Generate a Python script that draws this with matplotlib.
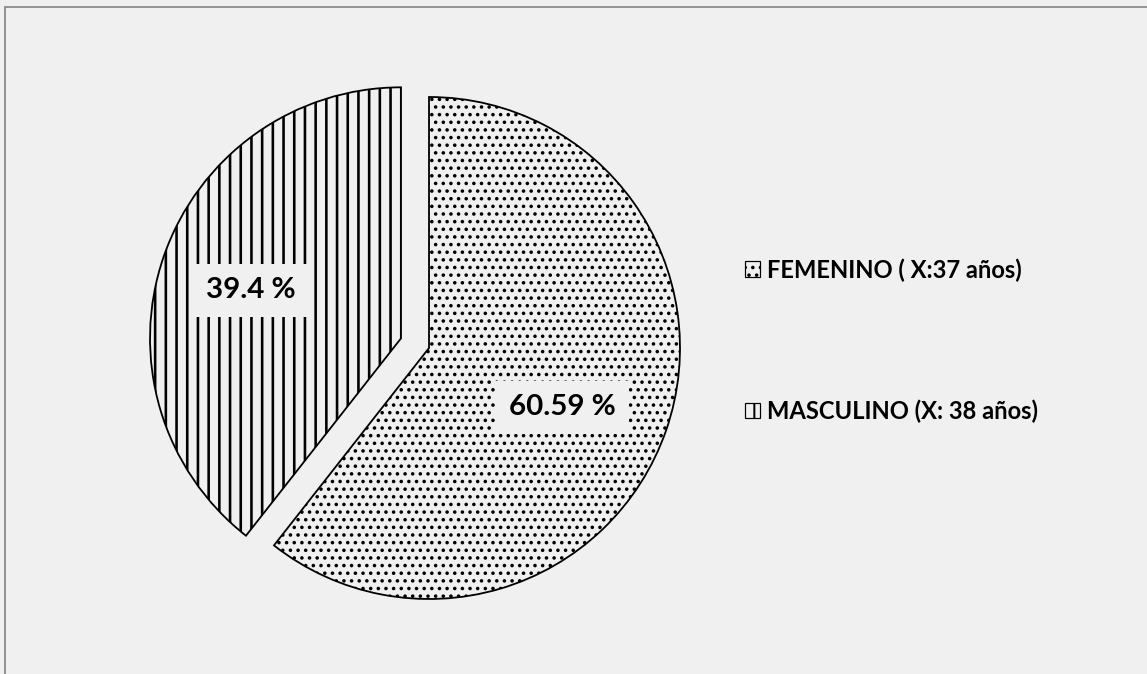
import numpy as np
import matplotlib
matplotlib.use('Agg')
import matplotlib.pyplot as plt
from matplotlib.patches import Patch, Rectangle

# data
categories = ['FEMENINO ( X:37 años)', 'MASCULINO (X: 38 años)']
shares = [60.59, 39.4]
share_labels = ['60.59 %', '39.4 %']
hatches = ['.' * 7, '|' * 5]
explode = [0.0, 0.118]

# a high dpi lets the hatch densities match the reference spacing
W, H, DPI = 1147, 674, 321
BG = '#f0f0f0'


def px(v):
    # pixels -> points
    return v * 72.0 / DPI


plt.rcParams['font.family'] = ['Lato', 'DejaVu Sans']
plt.rcParams['hatch.linewidth'] = px(2.0)

fig = plt.figure(figsize=(W / DPI, H / DPI), dpi=DPI, facecolor=BG)

# outer frame (only left and top edges visible in the reference)
fig.patches.append(Rectangle((5 / W, -0.05), 1.2, (H - 7) / H + 0.05,
                             transform=fig.transFigure, fill=False,
                             edgecolor='#8a8a8a', linewidth=px(1.8)))

# pie axes: centre at (429, 348) px, radius 251 px
cx, cy, r = 429, 348, 251
lim = 1.2
ax = fig.add_axes([(cx - lim * r) / W, (H - cy - lim * r) / H,
                   2 * lim * r / W, 2 * lim * r / H])
ax.set_facecolor(BG)

wedges, _ = ax.pie(shares, explode=explode, startangle=90, counterclock=False,
                   colors=[BG, BG], radius=1,
                   wedgeprops=dict(edgecolor='black', linewidth=px(1.8)))
hatch_lw = [px(2.0), px(2.6)]
for w, h, lw in zip(wedges, hatches, hatch_lw):
    w.set_hatch(h)
    if hasattr(w, 'set_hatch_linewidth'):
        w.set_hatch_linewidth(lw)

ax.set_xlim(-lim, lim)
ax.set_ylim(-lim, lim)
ax.set_aspect('auto')
ax.axis('off')

# percentage labels with boxes covering the hatch
label_dist = [0.58, 0.628]
label_nudge = [-5.0, 1.4]
for w, txt, d, nd, ex in zip(wedges, share_labels, label_dist, label_nudge, explode):
    mid0 = np.deg2rad((w.theta1 + w.theta2) / 2)
    mid = np.deg2rad((w.theta1 + w.theta2) / 2 + nd)
    x = ex * np.cos(mid0) + d * np.cos(mid)
    y = ex * np.sin(mid0) + d * np.sin(mid)
    ax.text(x, y, txt, ha='center', va='center', fontsize=px(29.5), fontweight='bold',
            bbox=dict(boxstyle='square,pad=0.45', facecolor=BG, edgecolor='none'))

handles = [Patch(facecolor=BG, edgecolor='black', hatch=h, linewidth=px(1.2))
           for h in hatches]
fig.legend(handles, categories, loc='center left',
           bbox_to_anchor=(745 / W, 1 - 340.5 / H), frameon=False,
           prop=dict(family=['Lato', 'DejaVu Sans'], weight='bold', size=px(23.8)),
           handlelength=0.63, handleheight=0.63, handletextpad=0.3,
           labelspacing=4.95, borderpad=0, borderaxespad=0)

fig.savefig('out.png', dpi=DPI, facecolor=BG)
